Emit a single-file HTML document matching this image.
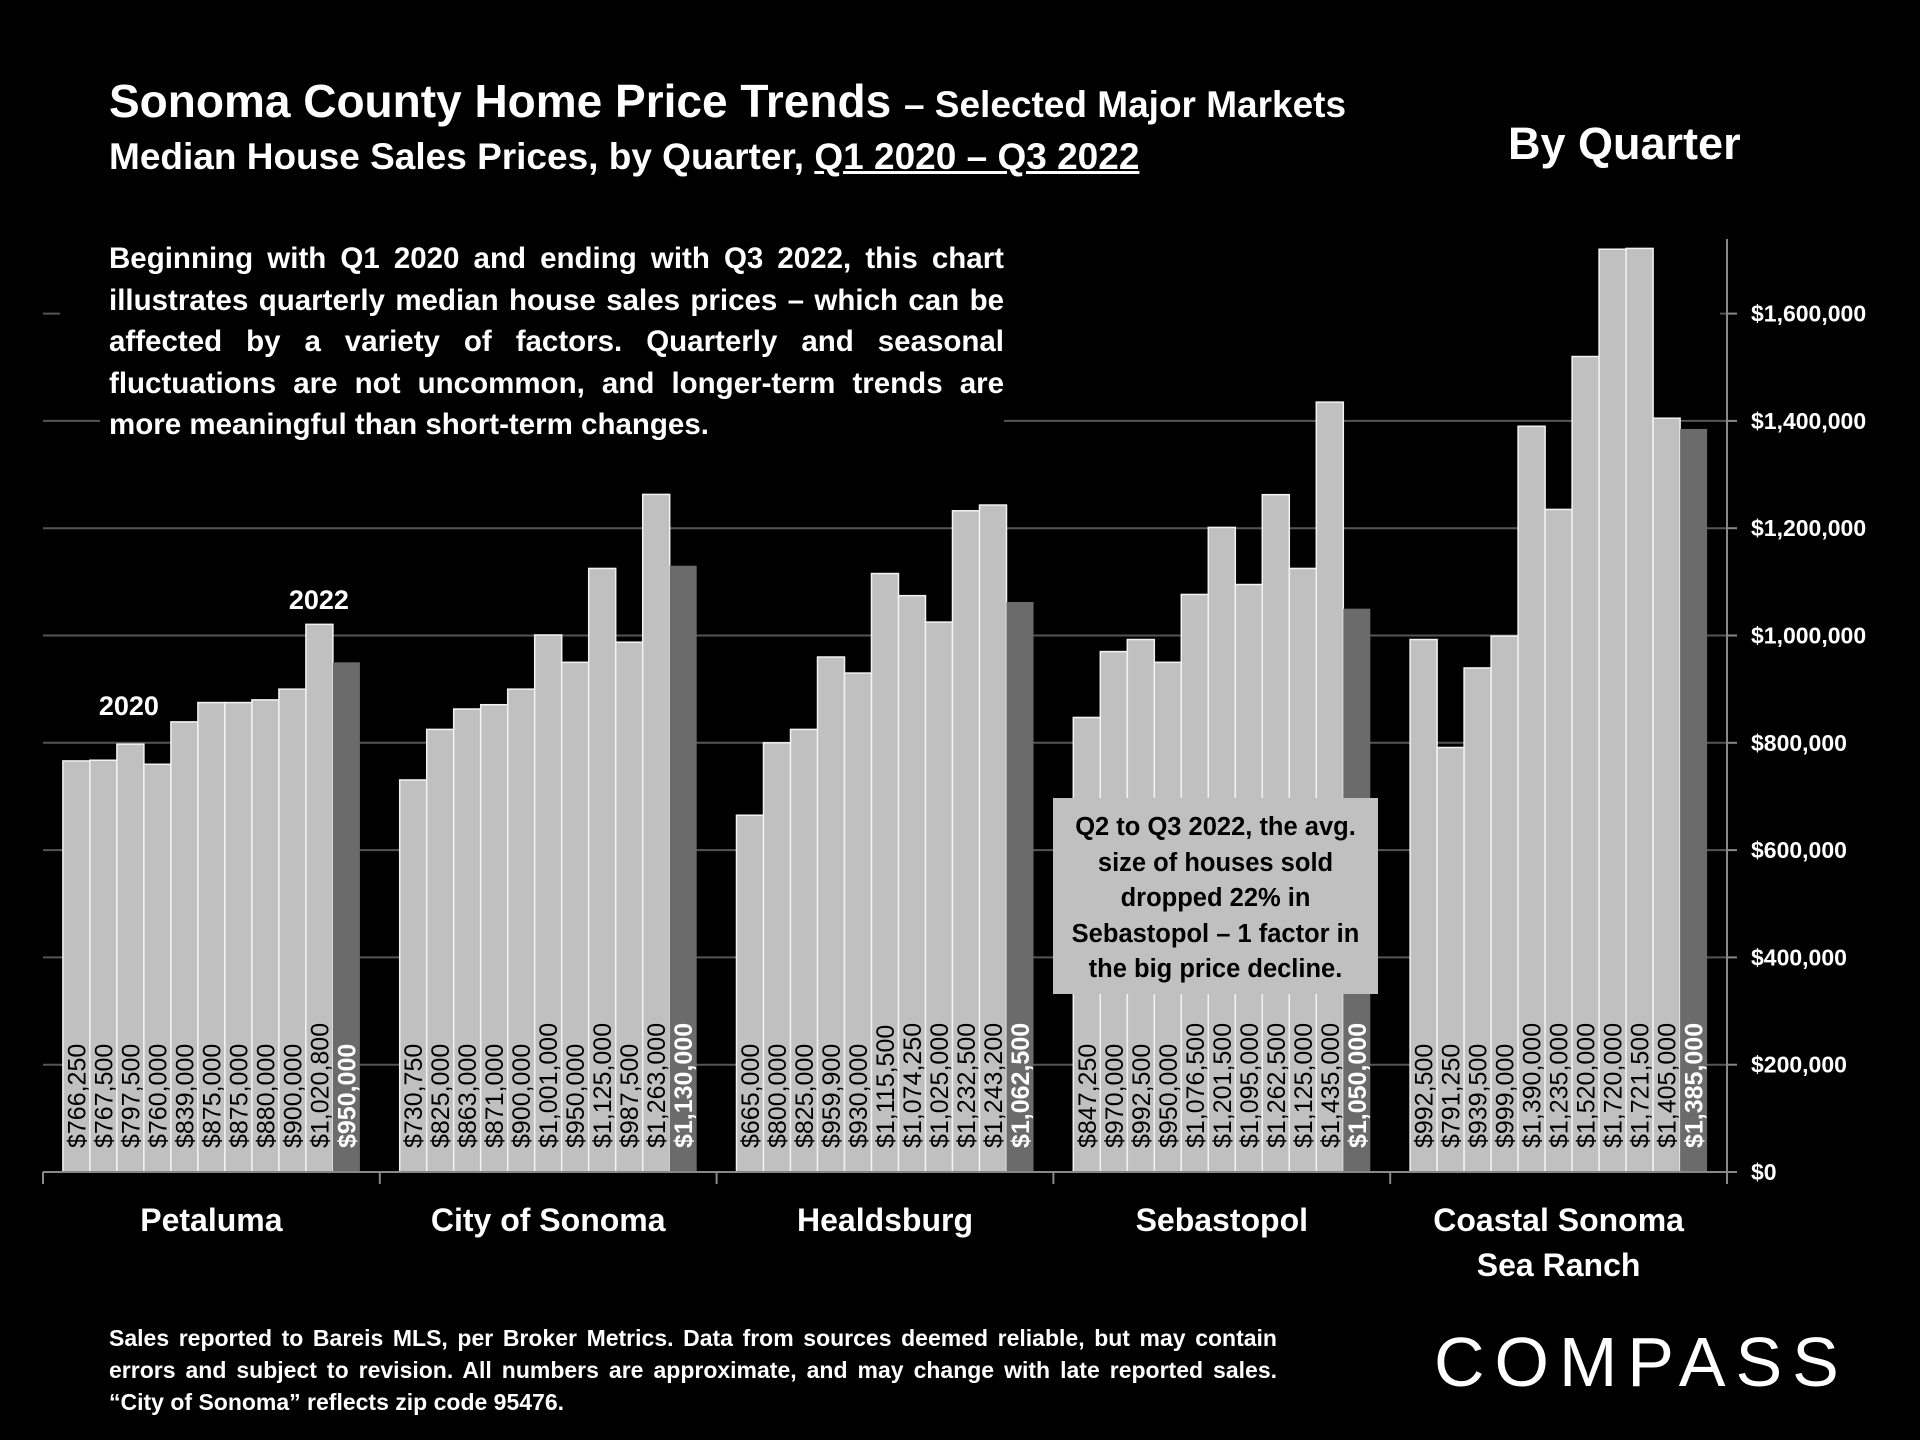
<!DOCTYPE html>
<html><head><meta charset="utf-8">
<style>
html,body{margin:0;padding:0;background:#000;}
body{width:1920px;height:1440px;position:relative;overflow:hidden;font-family:"Liberation Sans",Arial,sans-serif;color:#fff;}
.abs{position:absolute;}
</style></head>
<body>
<svg id="chart" class="abs" style="left:0;top:0" width="1920" height="1440"></svg>

<div class="abs" style="left:109px;top:74px;font-weight:bold;font-size:46px;white-space:nowrap;">Sonoma County Home Price Trends <span style="font-size:37px">– Selected Major Markets</span></div>
<div class="abs" style="left:109px;top:136px;font-weight:bold;font-size:37px;white-space:nowrap;">Median House Sales Prices, by Quarter, <span style="text-decoration:underline">Q1 2020 – Q3 2022</span></div>
<div class="abs" style="left:1508px;top:118px;font-weight:bold;font-size:45px;white-space:nowrap;">By Quarter</div>

<div class="abs" style="left:100px;top:238px;width:895px;padding-left:9px;background:#000;font-weight:bold;font-size:29.5px;line-height:41.6px;text-align:justify;">Beginning with Q1 2020 and ending with Q3 2022, this chart illustrates quarterly median house sales prices – which can be affected by a variety of factors. Quarterly and seasonal fluctuations are not uncommon, and longer-term trends are more meaningful than short-term changes.</div>

<div class="abs" style="left:1053px;top:798px;width:325px;height:196px;background:#c0c0c0;color:#000;font-weight:bold;font-size:25.5px;line-height:35.5px;text-align:center;padding:12px 10px 0;box-sizing:border-box;">Q2 to Q3 2022, the avg. size of houses sold dropped 22% in Sebastopol – 1 factor in the big price decline.</div>

<div class="abs" style="left:109px;top:1322px;width:1168px;font-weight:bold;font-size:23px;line-height:32px;text-align:justify;">Sales reported to Bareis MLS, per Broker Metrics. Data from sources deemed reliable, but may contain errors and subject to revision. All numbers are approximate, and may change with late reported sales. “City of Sonoma” reflects zip code 95476.</div>

<div class="abs" style="left:1434px;top:1322px;font-size:70px;letter-spacing:10px;white-space:nowrap;">COMPASS</div>

<script>
const categories = ["Petaluma","City of Sonoma","Healdsburg","Sebastopol","Coastal Sonoma|Sea Ranch"];
const petaluma = [766250,767500,797500,760000,839000,875000,875000,880000,900000,1020800,950000];
const sonoma = [730750,825000,863000,871000,900000,1001000,950000,1125000,987500,1263000,1130000];
const healdsburg = [665000,800000,825000,959900,930000,1115500,1074250,1025000,1232500,1243200,1062500];
const sebastopol = [847250,970000,992500,950000,1076500,1201500,1095000,1262500,1125000,1435000,1050000];
const coastal = [992500,791250,939500,999000,1390000,1235000,1520000,1720000,1721500,1405000,1385000];
const series = [petaluma, sonoma, healdsburg, sebastopol, coastal];
const yTicks = [0,200000,400000,600000,800000,1000000,1200000,1400000,1600000];

const svg = document.getElementById('chart');
const NS = 'http://www.w3.org/2000/svg';
const X0 = 43, X1 = 1727, Y0 = 1172, PER200 = 107.3;
const groupW = (X1 - X0) / categories.length;
const barW = 27;
function y(v){ return Y0 - v / 200000 * PER200; }
function barX(g, i){ return X0 + g * groupW + (groupW - 11 * barW) / 2 + i * barW; }
function fmt(v){ return '$' + v.toLocaleString('en-US'); }
function el(tag, attrs, parent){ const e = document.createElementNS(NS, tag); for (const k in attrs) e.setAttribute(k, attrs[k]); (parent || svg).appendChild(e); return e; }

yTicks.forEach(t => {
  if (t === 0) return;
  const g = el('line', {x1: X0, x2: X1, y1: y(t), y2: y(t), stroke: '#555', 'stroke-width': 2});
  
  
});
const mask = el('rect', {x: 60, y: 140, width: 1660, height: 200, fill: '#000'});



series.forEach((vals, g) => {
  vals.forEach((v, i) => {
    const last = i === vals.length - 1;
    const bx = barX(g, i);
    const r = el('rect', {x: bx, y: y(v), width: barW, height: Y0 - y(v), fill: last ? '#6b6b6b' : '#c0c0c0', stroke: last ? 'none' : '#f2f2f2', 'stroke-width': 1.5});
    
    
    const tx = bx + barW / 2 + 9, ty = Y0 - 24;
    const t = el('text', {x: tx, y: ty, transform: `rotate(-90 ${tx} ${ty})`, 'font-size': 25, 'font-family': 'Liberation Sans, sans-serif', fill: last ? '#fff' : '#000', 'font-weight': last ? 'bold' : 'normal'});
    t.textContent = fmt(v);
    
    
  });
});

const xa = el('line', {x1: X0, x2: X1, y1: Y0, y2: Y0, stroke: '#888', 'stroke-width': 2});


for (let g = 0; g <= categories.length; g++) {
  const tk = el('line', {x1: X0 + g * groupW, x2: X0 + g * groupW, y1: Y0, y2: Y0 + 12, stroke: '#888', 'stroke-width': 2});
  
  
}
categories.forEach((c, g) => {
  c.split('|').forEach((line, k) => {
    const t = el('text', {x: X0 + (g + 0.5) * groupW, y: 1231 + k * 45, 'text-anchor': 'middle', 'font-size': 32, 'font-weight': 'bold', fill: '#fff', 'font-family': 'Liberation Sans, sans-serif'});
    t.textContent = line;
    
    
  });
});

const ya = el('line', {x1: X1, x2: X1, y1: 239, y2: Y0, stroke: '#888', 'stroke-width': 2});


yTicks.forEach(t => {
  const tk = el('line', {x1: X1, x2: X1 + 10, y1: y(t), y2: y(t), stroke: '#888', 'stroke-width': 2});
  
  
  const lb = el('text', {x: 1751, y: y(t) + 8, 'font-size': 23, 'font-weight': 'bold', fill: '#fff', 'font-family': 'Liberation Sans, sans-serif'});
  lb.textContent = fmt(t);
  
  
});

const y20 = el('text', {x: barX(0, 2) + 12, y: 715, 'text-anchor': 'middle', 'font-size': 27, 'font-weight': 'bold', fill: '#fff', 'font-family': 'Liberation Sans, sans-serif'});
y20.textContent = '2020';


const y22 = el('text', {x: barX(0, 9) + 13, y: 609, 'text-anchor': 'middle', 'font-size': 27, 'font-weight': 'bold', fill: '#fff', 'font-family': 'Liberation Sans, sans-serif'});
y22.textContent = '2022';


</script>
</body></html>
